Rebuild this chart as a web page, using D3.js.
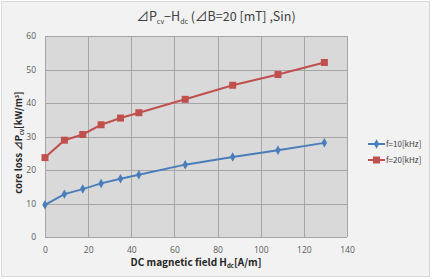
<!DOCTYPE html>
<html>
<head>
  <style>
    body, html { margin: 0; padding: 0; background: #fff; }
    svg { display: block; }
    text { font-family: "Noto Sans CJK JP", "Noto Sans", sans-serif; }
  </style>
</head>
<body>
  <svg id="svg" width="432" height="279"></svg>
  <script src="https://d3js.org/d3.v7.min.js"></script>
  <script>
    const hdc = [0, 9, 17.5, 26, 35, 43.5, 65, 87, 108, 129.5]
    const f10 = [9.6, 12.8, 14.3, 16.0, 17.4, 18.6, 21.6, 23.9, 25.9, 28.1]
    const f20 = [23.7, 28.9, 30.6, 33.5, 35.5, 37.1, 41.1, 45.3, 48.5, 52.1]
    const seriesNames = ["f=10[kHz]", "f=20[kHz]"]
    const xTicks = [0, 20, 40, 60, 80, 100, 120, 140]
    const yTicks = [0, 10, 20, 30, 40, 50, 60]

    const width = 432
    const height = 279
    const plot = { left: 45, right: 347, top: 36, bottom: 237 }

    const svg = d3.select("#svg")

    // outer chart frame
    svg.append("rect")
      .attr("x", 1.5).attr("y", 1.5)
      .attr("width", width - 4).attr("height", height - 4)
      .attr("fill", "#f2f2f2")
      .attr("stroke", "#d9d9d9")

    const xScale = d3.scaleLinear().domain([0, 140]).range([plot.left, plot.right])
    const yScale = d3.scaleLinear().domain([0, 60]).range([plot.bottom, plot.top])

    svg.append("rect")
      .attr("x", plot.left).attr("y", plot.top)
      .attr("width", plot.right - plot.left).attr("height", plot.bottom - plot.top)
      .attr("fill", "#d9d9d9")

    // grid
    const grid = svg.append("g").attr("stroke", "#a6a6a6").attr("stroke-width", 1)
    grid.selectAll(".gx").data(xTicks).enter().append("line")
      .attr("x1", d => Math.round(xScale(d)) + 0.5).attr("x2", d => Math.round(xScale(d)) + 0.5)
      .attr("y1", plot.top).attr("y2", plot.bottom)
    grid.selectAll(".gy").data(yTicks).enter().append("line")
      .attr("x1", plot.left).attr("x2", plot.right)
      .attr("y1", d => Math.round(yScale(d)) + 0.5).attr("y2", d => Math.round(yScale(d)) + 0.5)

    // axes
    const bottomAxis = d3.axisBottom(xScale).tickValues(xTicks).tickSize(0).tickPadding(10)
    const leftAxis = d3.axisLeft(yScale).tickValues(yTicks).tickSize(0).tickPadding(9)

    const gx = svg.append("g")
      .attr("transform", `translate(0, ${plot.bottom})`)
      .call(bottomAxis)
    const gy = svg.append("g")
      .attr("transform", `translate(${plot.left}, 0)`)
      .call(leftAxis)
    for (const g of [gx, gy]) {
      g.select(".domain").remove()
      g.selectAll("text")
        .attr("fill", "#595959")
        .style("font-size", "8.5px")
        .style("font-family", "'Open Sans', sans-serif")
    }

    // lines
    const lineGen = d3.line()
      .x(d => xScale(d[0]))
      .y(d => yScale(d[1]))

    const blueData = hdc.map((h, i) => [h, f10[i]])
    const redData = hdc.map((h, i) => [h, f20[i]])
    const colors = ["#4a7ebb", "#c0504d"]

    svg.append("path")
      .attr("d", lineGen(blueData))
      .attr("fill", "none").attr("stroke", colors[0]).attr("stroke-width", 2)
    svg.append("path")
      .attr("d", lineGen(redData))
      .attr("fill", "none").attr("stroke", colors[1]).attr("stroke-width", 2)

    const diamond = d3.symbol().type(d3.symbolDiamond).size(26)
    svg.append("g").selectAll("path")
      .data(blueData).enter().append("path")
      .attr("d", diamond)
      .attr("transform", d => `translate(${xScale(d[0])},${yScale(d[1])})`)
      .attr("fill", colors[0])
    svg.append("g").selectAll("rect")
      .data(redData).enter().append("rect")
      .attr("x", d => xScale(d[0]) - 3.5).attr("y", d => yScale(d[1]) - 3.5)
      .attr("width", 7).attr("height", 7)
      .attr("fill", colors[1])

    // legend
    const legend = svg.append("g")
    seriesNames.forEach((name, i) => {
      const y = 144 + i * 16
      legend.append("line")
        .attr("x1", 368).attr("x2", 385).attr("y1", y).attr("y2", y)
        .attr("stroke", colors[i]).attr("stroke-width", 2)
      if (i === 0) {
        legend.append("path").attr("d", diamond)
          .attr("transform", `translate(376.5,${y})`).attr("fill", colors[i])
      } else {
        legend.append("rect").attr("x", 373).attr("y", y - 3.5)
          .attr("width", 7).attr("height", 7).attr("fill", colors[i])
      }
      legend.append("text")
        .attr("x", 386).attr("y", y + 3)
        .attr("fill", "#404040")
        .style("font-size", "8px")
        .text(name)
    })

    // title
    const title = svg.append("text")
      .attr("x", 216).attr("y", 21)
      .attr("text-anchor", "middle")
      .attr("fill", "#404040")
      .style("font-size", "12.5px")
    title.append("tspan").text("⊿P")
    title.append("tspan").attr("dy", 3).style("font-size", "7px").text("cv")
    title.append("tspan").attr("dy", -3).text("−H")
    title.append("tspan").attr("dy", 3).style("font-size", "7px").text("dc")
    title.append("tspan").attr("dy", -3).text(" (⊿B=20 [mT] ,Sin)")

    // x label
    const xLabel = svg.append("text")
      .attr("x", 196).attr("y", 266)
      .attr("text-anchor", "middle")
      .attr("fill", "#262626")
      .style("font-size", "10px")
      .style("font-weight", "bold")
    xLabel.append("tspan").text("DC magnetic field H")
    xLabel.append("tspan").attr("dy", 2).style("font-size", "6px").text("dc")
    xLabel.append("tspan").attr("dy", -2).text("[A/m]")

    // y label
    const yLabel = svg.append("text")
      .attr("transform", `translate(22, ${(plot.top + plot.bottom) / 2 + 6}) rotate(-90)`)
      .attr("text-anchor", "middle")
      .attr("fill", "#262626")
      .style("font-size", "9.5px")
      .style("font-weight", "bold")
    yLabel.append("tspan").text("core loss ⊿P")
    yLabel.append("tspan").attr("dy", 2).style("font-size", "5.5px").text("cv")
    yLabel.append("tspan").attr("dy", -2).text("[kW/m")
    yLabel.append("tspan").attr("dy", -3).style("font-size", "5.5px").text("3")
    yLabel.append("tspan").attr("dy", 3).text("]")
  </script>
</body>
</html>
